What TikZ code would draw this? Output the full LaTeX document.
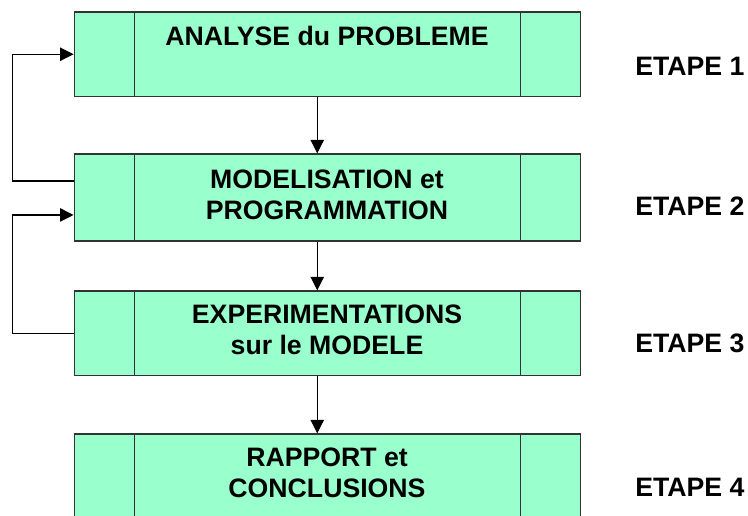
\documentclass[tikz,border=0pt]{standalone}
\usepackage{fontspec}
\setmainfont{Liberation Sans}
\usetikzlibrary{arrows.meta}
\definecolor{stagefill}{HTML}{99FFCC}
\definecolor{stageline}{HTML}{333333}
\tikzset{
  stagebox/.style={draw=stageline, fill=stagefill, line width=1.1pt,
    minimum width=379.5pt, inner sep=0pt},
  stagetext/.style={anchor=base, inner sep=0pt,
    font=\bfseries\fontsize{20pt}{23.25pt}\selectfont},
  steplabel/.style={anchor=base west, inner sep=0pt,
    font=\bfseries\fontsize{20pt}{24pt}\selectfont},
  flow/.style={draw=black, line width=0.8pt,
    -{Triangle[length=10pt,width=10pt]}},
  divider/.style={draw=stageline, line width=1.1pt},
}
\begin{document}
\begin{tikzpicture}[x=0.75pt,y=-0.75pt]
\useasboundingbox (0,0) rectangle (748,515);
\clip (0,0) rectangle (748,515);

% the four stages
\node[stagebox, minimum height=63.4pt]  (b1) at (327.25,54.25) {};
\node[stagebox, minimum height=65.25pt] (b2) at (327.25,197.5) {};
\node[stagebox, minimum height=63.4pt]  (b3) at (327.25,333.25) {};
\node[stagebox, minimum height=63.75pt] (b4) at (327.25,476.5) {};
\foreach \b in {b1,b2,b3,b4}{
  \draw[divider] ([xshift=45.75pt]\b.north west) -- ([xshift=45.75pt]\b.south west);
  \draw[divider] ([xshift=-45.4pt]\b.north east) -- ([xshift=-45.4pt]\b.south east);
}

% stage titles
\node[stagetext] (t1) at (327,45) {ANALYSE du PROBLEME};
\node[stagetext] (t2) at (327,188.5)
  {\begin{tabular}[t]{@{}c@{}}MODELISATION et\\PROGRAMMATION\end{tabular}};
\node[stagetext] (t3) at (327,323.5)
  {\begin{tabular}[t]{@{}c@{}}EXPERIMENTATIONS\\sur le MODELE\end{tabular}};
\node[stagetext] (t4) at (327,466.5)
  {\begin{tabular}[t]{@{}c@{}}RAPPORT et\\CONCLUSIONS\end{tabular}};

% step labels
\node[steplabel] (e1) at (635,75)  {ETAPE 1};
\node[steplabel] (e2) at (635,215) {ETAPE 2};
\node[steplabel] (e3) at (635,352) {ETAPE 3};
\node[steplabel] (e4) at (635,496) {ETAPE 4};

% forward flow
\draw[flow] ([xshift=-7.5pt]b1.south) -- ([xshift=-7.5pt]b2.north);
\draw[flow] ([xshift=-7.5pt]b2.south) -- ([xshift=-7.5pt]b3.north);
\draw[flow] ([xshift=-7.5pt]b3.south) -- ([xshift=-7.5pt]b4.north);

% feedback loops
\draw[flow] ([yshift=12.4pt]b2.west) -- ++(-61,0) |- (b1.west);
\draw[flow] (b3.west) -- ++(-61,0) |- ([yshift=-13.1pt]b2.west);
\end{tikzpicture}
\end{document}
